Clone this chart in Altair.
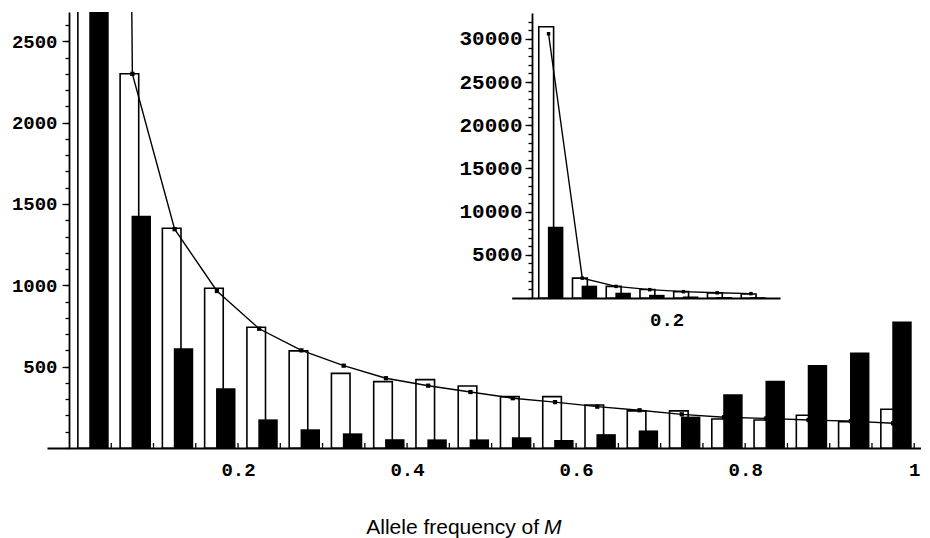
import altair as alt
import pandas as pd

# ---- data ----
bin_start = [0.00, 0.05, 0.10, 0.15, 0.20, 0.25, 0.30, 0.35, 0.40, 0.45,
             0.50, 0.55, 0.60, 0.65, 0.70, 0.75, 0.80, 0.85, 0.90, 0.95]
white_counts = [31400, 2300, 1351, 982, 742, 597, 459, 408, 420, 381,
                316, 316, 264, 228, 228, 178, 172, 201, 162, 238]
black_counts = [8250, 1427, 613, 367, 176, 115, 90, 54, 53, 53,
                66, 49, 85, 108, 193, 330, 413, 510, 587, 777]
curve_values = [30600, 2300, 1345, 965, 733, 600, 506, 429, 383, 344,
                306, 282, 254, 232, 207, 189, 182, 172, 165, 152]

x_minor_ticks = [0.05, 0.10, 0.15, 0.20, 0.25, 0.30, 0.35, 0.40, 0.45, 0.50,
                 0.55, 0.60, 0.65, 0.70, 0.75, 0.80, 0.85, 0.90, 0.95, 1.00]
main_x_labels = [0.2, 0.4, 0.6, 0.8, 1.0]
main_y_major = [500, 1000, 1500, 2000, 2500]
main_y_minor = list(range(0, 2700, 100))
inset_x_labels = [0.2]
inset_y_major = [5000, 10000, 15000, 20000, 25000, 30000]
inset_y_minor = list(range(0, 33000, 1000))

title_text = "Allele frequency of"
title_var = "M"

df = pd.DataFrame({"lo": bin_start, "white": white_counts,
                   "black": black_counts, "curve": curve_values})
ticks_df = pd.DataFrame({"t": x_minor_ticks})
one_row = pd.DataFrame({"a": [0]})

MONO = "Liberation Mono"
SANS = "Liberation Sans, Arial"

XM = alt.Scale(domain=[-0.026, 1.008], nice=False, zero=False)
YM = alt.Scale(domain=[0, 2680], nice=False, zero=True)
XI = alt.Scale(domain=[-0.0296, 0.368], range=[464.7, 733], nice=False, zero=False)
YI = alt.Scale(domain=[0, 33000], range=[286, 1], nice=False, zero=True)

base = alt.Chart(df).transform_calculate(
    wx0="datum.lo + 0.0105", wx1="datum.lo + 0.0325",
    bx0="datum.lo + 0.024", bx1="datum.lo + 0.047",
    mid="datum.lo + 0.025")

common = dict(labelColor="black", domainColor="black", domainWidth=1.8,
              tickColor="black", tickWidth=1.3, grid=False, title=None,
              labelOverlap=False, labelFontWeight="bold")

x_axis_main = alt.Axis(orient="bottom", values=main_x_labels,
                       labelExpr="datum.value > 0.99 ? '1' : format(datum.value, '.1f')",
                       ticks=False, labelPadding=12, labelFont=MONO, labelFontSize=19,
                       **common)
y_axis_main = alt.Axis(orient="left", values=main_y_major, format="d", tickSize=7,
                       offset=-22, labelPadding=5, labelFont=MONO, labelFontSize=19,
                       **common)
y_axis_main_minor = alt.Axis(orient="left", values=main_y_minor, tickSize=4, labels=False,
                             domain=False, offset=-22, **common)

x_axis_inset = alt.Axis(orient="bottom", offset=-150, values=inset_x_labels, format=".1f",
                        ticks=False, labelPadding=12, labelFont=MONO, labelFontSize=19,
                        **common)
y_axis_inset = alt.Axis(orient="left", offset=-485, values=inset_y_major, format="d",
                        tickSize=7, labelPadding=3, labelFont=MONO, labelFontSize=21,
                        **common)
y_axis_inset_minor = alt.Axis(orient="left", offset=-485, values=inset_y_minor, tickSize=4,
                              labels=False, domain=False, **common)

# ---- main panel ----
white_main = base.mark_rect(fill="white", stroke="black", strokeWidth=1.6, clip=True).encode(
    x=alt.X("wx0:Q", scale=XM, axis=x_axis_main), x2="wx1:Q",
    y=alt.Y("white:Q", scale=YM, axis=y_axis_main), y2=alt.Y2Datum(0))
black_main = base.mark_rect(fill="black", clip=True).encode(
    x=alt.X("bx0:Q", scale=XM, axis=None), x2="bx1:Q",
    y=alt.Y("black:Q", scale=YM, axis=y_axis_main_minor), y2=alt.Y2Datum(0))
line_main = base.mark_line(color="black", strokeWidth=1.4, clip=True).encode(
    x=alt.X("mid:Q", scale=XM, axis=None), y=alt.Y("curve:Q", scale=YM, axis=None))
pts_main = base.mark_square(size=18, color="black", opacity=1, clip=True).encode(
    x=alt.X("mid:Q", scale=XM, axis=None), y=alt.Y("curve:Q", scale=YM, axis=None))
tick_main = alt.Chart(ticks_df).mark_rule(color="black", strokeWidth=1.3, y2Offset=-5).encode(
    x=alt.X("t:Q", scale=XM, axis=None),
    y=alt.YDatum(0, scale=YM, axis=None), y2=alt.Y2Datum(0))

title_a = alt.Chart(one_row).mark_text(text=title_text, align="right", baseline="alphabetic",
                                       font=SANS, fontSize=21, color="black").encode(
    x=alt.value(492), y=alt.value(522))
title_b = alt.Chart(one_row).mark_text(text=title_var, align="left", baseline="alphabetic",
                                       font=SANS, fontSize=21, fontStyle="italic", color="black").encode(
    x=alt.value(497), y=alt.value(522))

# ---- inset panel ----
inset_base = base.transform_filter("datum.lo < 0.33")
white_in = inset_base.mark_rect(fill="white", stroke="black", strokeWidth=1.6).encode(
    x=alt.X("wx0:Q", scale=XI, axis=x_axis_inset), x2="wx1:Q",
    y=alt.Y("white:Q", scale=YI, axis=y_axis_inset), y2=alt.Y2Datum(0))
black_in = inset_base.mark_rect(fill="black").encode(
    x=alt.X("bx0:Q", scale=XI, axis=None), x2="bx1:Q",
    y=alt.Y("black:Q", scale=YI, axis=y_axis_inset_minor), y2=alt.Y2Datum(0))
line_in = inset_base.mark_line(color="black", strokeWidth=1.4).encode(
    x=alt.X("mid:Q", scale=XI, axis=None), y=alt.Y("curve:Q", scale=YI, axis=None))
pts_in = inset_base.mark_square(size=12, color="black", opacity=1).encode(
    x=alt.X("mid:Q", scale=XI, axis=None), y=alt.Y("curve:Q", scale=YI, axis=None))

chart = alt.layer(
    white_main, black_main, line_main, pts_main, tick_main,
    white_in, black_in, line_in, pts_in,
    title_a, title_b,
).resolve_scale(x="independent", y="independent").properties(
    width=874, height=436,
    padding={"left": 39, "top": 4, "right": 0, "bottom": 94},
    autosize=alt.AutoSizeParams(type="none"),
    background="white",
).configure_view(stroke=None)

chart.save("out.html", embed_options={"renderer": "svg", "actions": False})
